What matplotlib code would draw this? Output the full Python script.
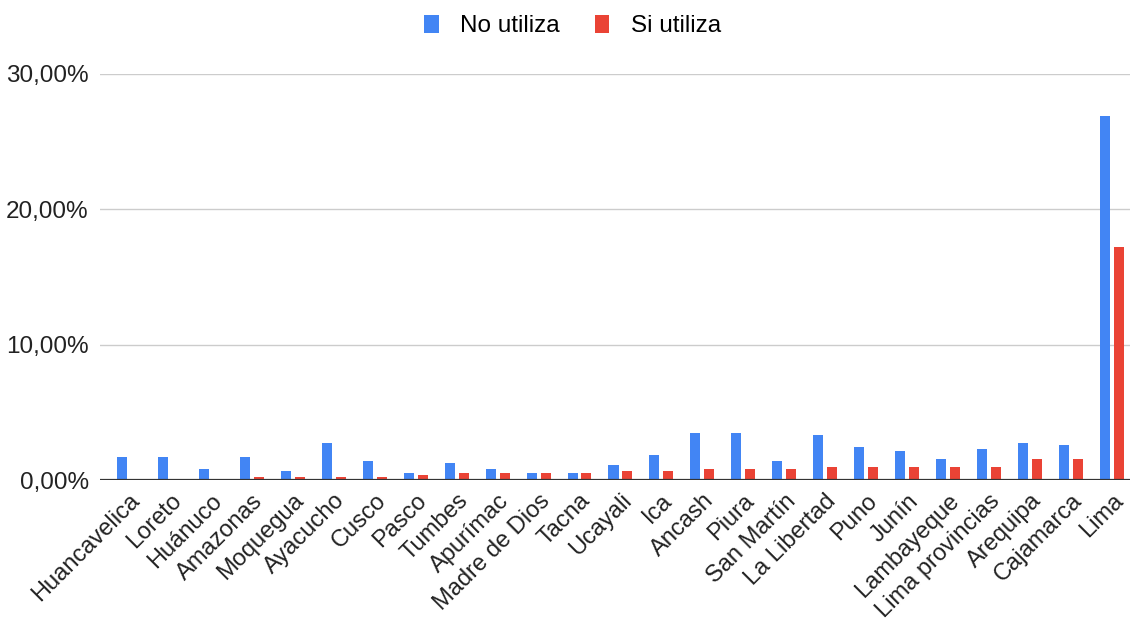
import numpy as np
import matplotlib
matplotlib.use("Agg")
import matplotlib.pyplot as plt
from matplotlib.ticker import FuncFormatter, MultipleLocator

regiones = ["Huancavelica", "Loreto", "Huánuco", "Amazonas", "Moquegua", "Ayacucho",
            "Cusco", "Pasco", "Tumbes", "Apurímac", "Madre de Dios", "Tacna", "Ucayali",
            "Ica", "Ancash", "Piura", "San Martín", "La Libertad", "Puno", "Junín",
            "Lambayeque", "Lima provincias", "Arequipa", "Cajamarca", "Lima"]
no_utiliza = [1.68, 1.68, 0.79, 1.68, 0.64, 2.71, 1.38, 0.50, 1.23, 0.79, 0.50, 0.50, 1.08,
              1.82, 3.45, 3.45, 1.38, 3.30, 2.41, 2.12, 1.53, 2.27, 2.71, 2.56, 26.9]
si_utiliza = [0.0, 0.0, 0.0, 0.2, 0.2, 0.2, 0.2, 0.35, 0.5, 0.5, 0.5, 0.5, 0.64,
              0.64, 0.79, 0.79, 0.79, 0.94, 0.94, 0.94, 0.94, 0.94, 1.53, 1.53, 17.25]

BLUE = "#4285F4"
RED = "#EA4335"
plt.rcParams["font.family"] = ["Liberation Sans", "DejaVu Sans"]

fig = plt.figure(figsize=(11.36, 6.21), dpi=100)
ax = fig.add_axes([0.088, 0.227, 0.907, 0.654])

x = np.arange(len(regiones))
w = 0.245
ax.bar(x - 0.17, no_utiliza, w, color=BLUE, label="No utiliza", zorder=3)
ax.bar(x + 0.17, si_utiliza, w, color=RED, label="Si utiliza", zorder=3)

ax.set_xlim(-0.71, 24.45)
ax.set_ylim(0, 30)
ax.yaxis.set_major_locator(MultipleLocator(10))
ax.yaxis.set_major_formatter(FuncFormatter(lambda v, p: f"{v:.2f}".replace(".", ",") + "%"))
ax.grid(axis="y", color="#cccccc", linewidth=1, zorder=0)
ax.axhline(0, color="#333333", linewidth=1.6, zorder=4)
for s in ["top", "right", "left", "bottom"]:
    ax.spines[s].set_visible(False)
ax.tick_params(axis="y", length=0, labelsize=17.5, colors="#222222", pad=8)
ax.tick_params(axis="x", length=0, labelsize=17, colors="#222222", pad=7)
ax.set_xticks(x)
ax.set_xticklabels(regiones, rotation=45, ha="right", rotation_mode="anchor")

ax.legend(loc="center", bbox_to_anchor=(0.459, 1.118), ncol=2, frameon=False,
          fontsize=17.5, handlelength=0.58, handleheight=0.8, columnspacing=1.45,
          handletextpad=0.9)

fig.savefig("out.png", dpi=100)
